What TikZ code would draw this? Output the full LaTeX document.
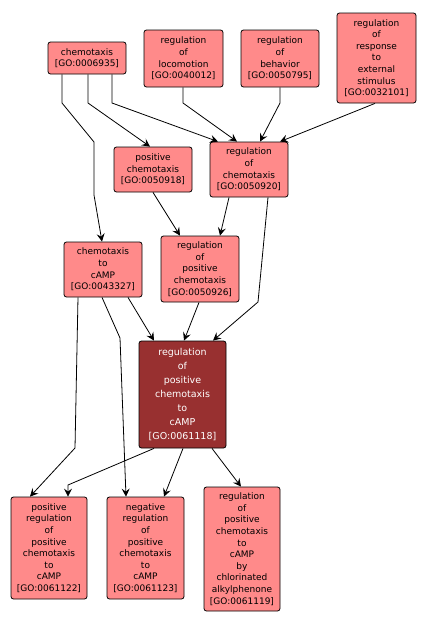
\documentclass[tikz,border=0pt]{standalone}
\usepackage{fontspec}
\setmainfont{DejaVu Sans}
\usetikzlibrary{arrows.meta}
\definecolor{lightnode}{RGB}{255,138,138}
\definecolor{mainnode}{RGB}{152,48,48}
\tikzset{
  goterm/.style={draw=black, line width=0.8pt, fill=lightnode, rounded corners=2.5pt,
    align=center, inner sep=0pt, font=\fontsize{9}{11.6}\selectfont, text=black},
  mainterm/.style={goterm, fill=mainnode, text=white, font=\fontsize{9.5}{14}\selectfont},
  edge/.style={draw=black, line width=0.8pt, -{Stealth[length=8pt,width=8pt,inset=3pt]}},
}
\begin{document}
\begin{tikzpicture}[x=1pt,y=-1pt]
\useasboundingbox (0,0) rectangle (425,627);
\node[goterm, minimum width=78pt, minimum height=32pt] (chem) at (87,58) {chemotaxis\\{[}GO:0006935{]}};
\node[goterm, minimum width=79pt, minimum height=57pt] (loco) at (183.5,58.5) {regulation\\of\\locomotion\\{[}GO:0040012{]}};
\node[goterm, minimum width=78pt, minimum height=57pt] (behav) at (280,58.5) {regulation\\of\\behavior\\{[}GO:0050795{]}};
\node[goterm, minimum width=79pt, minimum height=90pt] (resp) at (376.5,58) {regulation\\of\\response\\to\\external\\stimulus\\{[}GO:0032101{]}};
\node[goterm, minimum width=78pt, minimum height=45pt] (poschem) at (153,169.5) {positive\\chemotaxis\\{[}GO:0050918{]}};
\node[goterm, minimum width=78pt, minimum height=55pt] (regchem) at (249,169.5) {regulation\\of\\chemotaxis\\{[}GO:0050920{]}};
\node[goterm, minimum width=78pt, minimum height=55pt] (chemcamp) at (103,269.5) {chemotaxis\\to\\cAMP\\{[}GO:0043327{]}};
\node[goterm, minimum width=78pt, minimum height=66pt] (regpos) at (200,269) {regulation\\of\\positive\\chemotaxis\\{[}GO:0050926{]}};
\node[mainterm, minimum width=87pt, minimum height=107pt] (main) at (182.5,394.5) {regulation\\of\\positive\\chemotaxis\\to\\cAMP\\{[}GO:0061118{]}};
\node[goterm, minimum width=76pt, minimum height=102pt] (posreg) at (49,548) {positive\\regulation\\of\\positive\\chemotaxis\\to\\cAMP\\{[}GO:0061122{]}};
\node[goterm, minimum width=77pt, minimum height=102pt] (negreg) at (145.5,548) {negative\\regulation\\of\\positive\\chemotaxis\\to\\cAMP\\{[}GO:0061123{]}};
\node[goterm, minimum width=76pt, minimum height=124pt] (chlor) at (242,549) {regulation\\of\\positive\\chemotaxis\\to\\cAMP\\by\\chlorinated\\alkylphenone\\{[}GO:0061119{]}};

\draw[edge] ([xshift=-25pt]chem.south) -- (62,103) -- (94,142) -- (94,195) -- ([xshift=-1pt]chemcamp.north);
\draw[edge] ([xshift=1pt]chem.south) -- (88,103) -- ([xshift=-3pt]poschem.north);
\draw[edge] ([xshift=25pt]chem.south) -- (112,103) -- ([xshift=-31pt]regchem.north);
\draw[edge] ([xshift=-0.5pt]loco.south) -- (183,103) -- ([xshift=-12pt]regchem.north);
\draw[edge] (behav.south) -- (280,103) -- ([xshift=11pt]regchem.north);
\draw[edge] ([xshift=-1.5pt]resp.south) -- ([xshift=31pt]regchem.north);
\draw[edge] (poschem.south) -- ([xshift=-20pt]regpos.north);
\draw[edge] ([xshift=-20pt]regchem.south) -- ([xshift=20pt]regpos.north);
\draw[edge] ([xshift=19pt]regchem.south) -- (258,302) -- ([xshift=30.5pt]main.north);
\draw[edge] ([xshift=25pt]chemcamp.south) -- ([xshift=-28.5pt]main.north);
\draw[edge] ([xshift=-1pt]regpos.south) -- ([xshift=1.5pt]main.north);
\draw[edge] ([xshift=-25pt]chemcamp.south) -- (75,448) -- ([xshift=-19pt]posreg.north);
\draw[edge] ([xshift=-1pt]chemcamp.south) -- (120,338) -- ([xshift=-19.5pt]negreg.north);
\draw[edge] ([xshift=-28.5pt]main.south) -- (68,485) -- ([xshift=19pt]posreg.north);
\draw[edge] ([xshift=0.5pt]main.south) -- ([xshift=18.5pt]negreg.north);
\draw[edge] ([xshift=29.5pt]main.south) -- ([xshift=-1pt]chlor.north);
\end{tikzpicture}
\end{document}
